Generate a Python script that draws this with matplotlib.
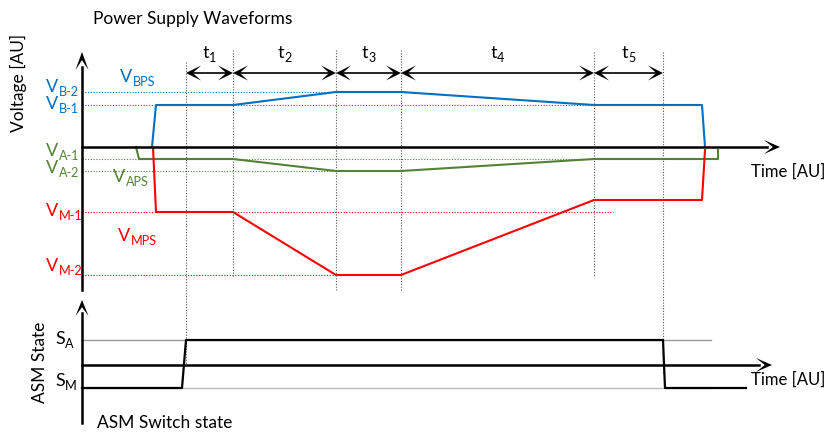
import matplotlib
matplotlib.use("Agg")
import matplotlib.pyplot as plt
import matplotlib.transforms as mtransforms
from matplotlib.patches import Polygon

plt.rcParams['font.family'] = ['Lato', 'DejaVu Sans']

BLUE = '#0070C0'
GREEN = '#548235'
RED = '#FF0000'
GREY = '#555555'

# ---- top panel data (time to the right of the voltage axis, voltage above the time axis)
t_bounds = [104, 151, 254, 319, 512, 581]
t_names = ['1', '2', '3', '4', '5']

bps_t = [70, 74, 151, 254, 319, 512, 620, 623]
bps_v = [0, 42, 42, 55, 55, 42, 42, 0]
aps_t = [54, 57, 151, 254, 319, 512, 636, 636]
aps_v = [0, -12, -12, -24, -24, -12, -12, -3]
mps_t = [71, 74, 151, 254, 319, 512, 620, 623]
mps_v = [0, -65, -65, -128, -128, -53, -53, -3]

# reference levels: (name, level, end time, colour)
levels = [
    ('B-2', 55, 254, BLUE),
    ('B-1', 42, 512, BLUE),
    ('A-1', -12, 512, GREEN),
    ('A-2', -24, 254, GREEN),
    ('M-1', -65, 531, RED),
    ('M-2', -128, 254, RED),
]

# vertical dotted markers: (time, top, bottom)
markers = [(104, 85, -220), (151, 97, -130), (254, 97, -143),
           (319, 97, -143), (512, 95, -130), (581, 95, -226)]

# ---- bottom panel data
S_A = 25
S_M = -23
asm_t = [0, 100, 104, 581, 583, 664]
asm_s = [S_M, S_M, S_A, S_A, S_M, S_M]

fig = plt.figure(figsize=(8.29, 4.33), dpi=100)
ax = fig.add_axes([0, 0, 1, 1])
ax.set_xlim(0, 829)
ax.set_ylim(433, 0)
ax.axis('off')

top = mtransforms.Affine2D().scale(1, -1).translate(82, 147) + ax.transData
bot = mtransforms.Affine2D().scale(1, -1).translate(82, 365) + ax.transData


def head(x, y, direction, tr, L=15, W=15):
    # stealth-like arrow head, tip at (x, y), drawn in pixel-sized units
    n = 0.45 * L
    if direction == 'right':
        pts = [(x, y), (x - L, y + W / 2), (x - n, y), (x - L, y - W / 2)]
    elif direction == 'left':
        pts = [(x, y), (x + L, y + W / 2), (x + n, y), (x + L, y - W / 2)]
    else:
        pts = [(x, y), (x - W / 2, y - L), (x, y - n), (x + W / 2, y - L)]
    ax.add_patch(Polygon(pts, closed=True, color='black', lw=0, transform=tr, zorder=6))


def sub_label(x, y, main, sub, color, size=13):
    t = ax.text(x, y, main, color=color, fontsize=size, ha='left', va='center')
    ax.annotate(sub, xy=(1, 0.1), xycoords=t, xytext=(0.3, -3), textcoords='offset points',
                fontsize=size * 0.7, color=color, ha='left', va='bottom')


# guide lines
for name, lv, end, c in levels:
    ax.plot([0, end], [lv, lv], color=c, lw=0.8, ls=(0, (1, 1.5)), transform=top, zorder=2)

for tm, v0, v1 in markers:
    ax.plot([tm, tm], [v0, v1], color=GREY, lw=0.8, ls=(0, (1, 1.5)), transform=top, zorder=2)

# axes of the top panel
ax.plot([0, 0], [-143, 80], color='black', lw=1.8, transform=top, zorder=5)
head(0, 95, 'up', top, L=18, W=13)
ax.plot([0, 685], [0, 0], color='black', lw=1.8, transform=top, zorder=5)
head(698, 0, 'right', top, L=16, W=14)

# waveforms
ax.plot(bps_t, bps_v, color=BLUE, lw=1.5, transform=top, zorder=4)
ax.plot(aps_t, aps_v, color=GREEN, lw=1.5, transform=top, zorder=4)
ax.plot(mps_t, mps_v, color=RED, lw=1.5, transform=top, zorder=4)

# phase arrows
row = 74
for i in range(len(t_bounds) - 1):
    a, b = t_bounds[i], t_bounds[i + 1]
    ax.plot([a + 5, b - 5], [row, row], color='black', lw=1.2, transform=top, zorder=5)
    head(a, row, 'left', top)
    head(b, row, 'right', top)
    mid = 82 + (a + b) / 2
    t = ax.text(mid - 4, 53, 't', fontsize=13, ha='center', va='center')
    ax.annotate(t_names[i], xy=(1, 0.1), xycoords=t, xytext=(0.3, -3), textcoords='offset points',
                fontsize=9, ha='left', va='bottom')

# bottom panel
ax.plot([0, 629], [S_A, S_A], color='#999999', lw=1.0, transform=bot, zorder=2)
ax.plot([0, 629], [S_M, S_M], color='#bbbbbb', lw=1.0, transform=bot, zorder=2)
ax.plot([0, 0], [-58, 52], color='black', lw=1.8, transform=bot, zorder=5)
head(0, 65, 'up', bot, L=16, W=13)
ax.plot([0, 677], [0, 0], color='black', lw=1.8, transform=bot, zorder=5)
head(690, 0, 'right', bot, L=16, W=14)
ax.plot(asm_t, asm_s, color='black', lw=1.6, transform=bot, zorder=4)

# texts
ax.text(93, 19, 'Power Supply Waveforms', fontsize=12.5, ha='left', va='center')
ax.text(18, 83, 'Voltage [AU]', fontsize=12.5, rotation=90, ha='center', va='center')
ax.text(751, 172, 'Time [AU]', fontsize=12, ha='left', va='center')
ax.text(751, 380, 'Time [AU]', fontsize=12, ha='left', va='center')
ax.text(40, 362, 'ASM State', fontsize=12.5, rotation=90, ha='center', va='center')
ax.text(97, 423, 'ASM Switch state', fontsize=12.5, ha='left', va='center')

sub_label(46, 87, 'V', 'B-2', BLUE)
sub_label(46, 104, 'V', 'B-1', BLUE)
sub_label(120, 77, 'V', 'BPS', BLUE)
sub_label(46, 151, 'V', 'A-1', GREEN)
sub_label(46, 168, 'V', 'A-2', GREEN)
sub_label(113, 177, 'V', 'APS', GREEN)
sub_label(46, 211, 'V', 'M-1', RED)
sub_label(118, 236, 'V', 'MPS', RED)
sub_label(46, 266, 'V', 'M-2', RED)
sub_label(55, 339, 'S', 'A', 'black')
sub_label(55, 381, 'S', 'M', 'black')

fig.savefig('out.png', dpi=100)
